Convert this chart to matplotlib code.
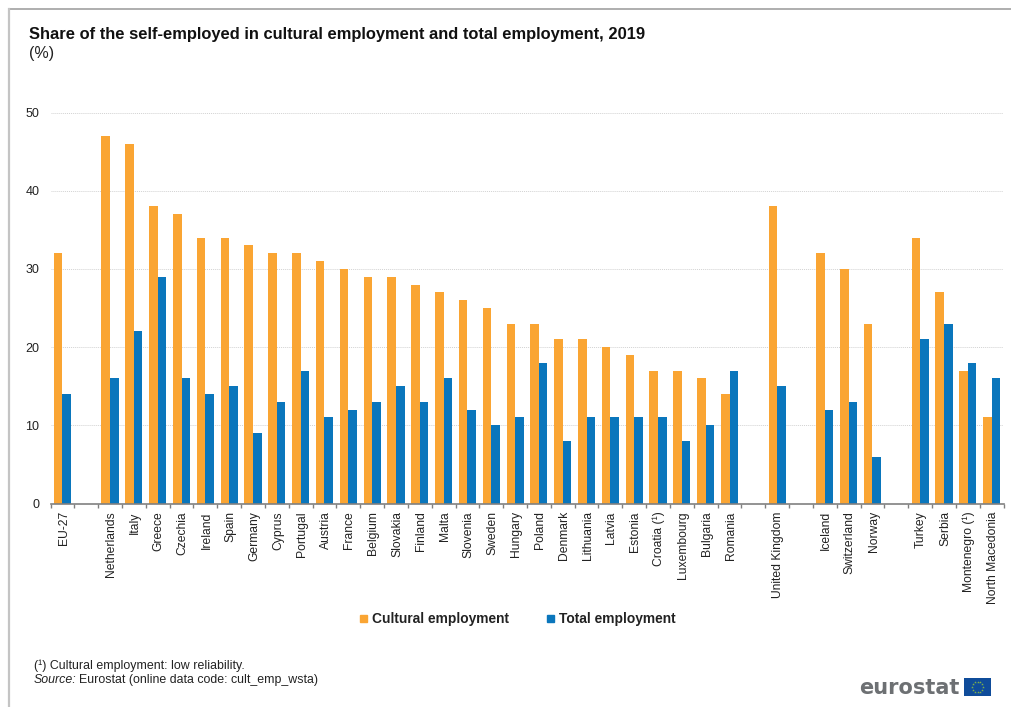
import numpy as np
import matplotlib
matplotlib.use("Agg")
import matplotlib.pyplot as plt
from matplotlib.patches import Rectangle
from matplotlib.lines import Line2D

plt.rcParams['font.family'] = ['Liberation Sans', 'DejaVu Sans']

countries = ["EU-27", "", "Netherlands", "Italy", "Greece", "Czechia", "Ireland", "Spain",
             "Germany", "Cyprus", "Portugal", "Austria", "France", "Belgium", "Slovakia",
             "Finland", "Malta", "Slovenia", "Sweden", "Hungary", "Poland", "Denmark",
             "Lithuania", "Latvia", "Estonia", "Croatia (¹)", "Luxembourg", "Bulgaria",
             "Romania", "", "United Kingdom", "", "Iceland", "Switzerland", "Norway", "",
             "Turkey", "Serbia", "Montenegro (¹)", "North Macedonia"]
cultural = [32, None, 47, 46, 38, 37, 34, 34, 33, 32, 32, 31, 30, 29, 29, 28, 27, 26, 25, 23,
            23, 21, 21, 20, 19, 17, 17, 16, 14, None, 38, None, 32, 30, 23, None, 34, 27, 17, 11]
total = [14, None, 16, 22, 29, 16, 14, 15, 9, 13, 17, 11, 12, 13, 15, 13, 16, 12, 10, 11,
         18, 8, 11, 11, 11, 11, 8, 10, 17, None, 15, None, 12, 13, 6, None, 21, 23, 18, 16]

W, H = 1012, 707
fig = plt.figure(figsize=(W / 100, H / 100), dpi=100)

def px(x, y):
    return x / W, 1 - y / H

# outer frame, only top and left sit inside the canvas
fig.add_artist(Line2D([9 / W, 1], [1 - 9 / H, 1 - 9 / H], color='#a8a8a8', lw=1.3))
fig.add_artist(Line2D([9 / W, 9 / W], [0, 1 - 9 / H], color='#c4c4c4', lw=1.6))

left, right, top, bottom = 50.5, 1003.5, 112.5, 503.5
ax = fig.add_axes([left / W, 1 - bottom / H, (right - left) / W, (bottom - top) / H])

x = np.arange(len(countries))
c_vals = np.array([np.nan if v is None else v for v in cultural], dtype=float)
t_vals = np.array([np.nan if v is None else v for v in total], dtype=float)
w = 0.36
ax.bar(x - w / 2, c_vals, w, color='#FAA533', label='Cultural employment')
ax.bar(x + w / 2, t_vals, w, color='#0A76BC', label='Total employment')

ax.set_xlim(-0.5, len(countries) - 0.5)
ax.set_ylim(0, 50)
ax.set_yticks(range(0, 51, 10))
ax.yaxis.grid(True, color='#d2d2d2', lw=0.7, ls=(0, (1, 1)))
ax.set_axisbelow(True)
ax.tick_params(axis='y', length=0, labelsize=9, pad=8, colors='#222222')
ax.set_xticks(np.arange(len(countries) + 1) - 0.5, minor=False)
ax.set_xticklabels([])
ax.tick_params(axis='x', length=3, color='#808080', width=1)
for i, name in enumerate(countries):
    ax.annotate(name, (i, 0), xytext=(0.8, -5.5), textcoords='offset points', rotation=90,
                ha='center', va='top', fontsize=8.7, color='#222222', annotation_clip=False)
for s in ['top', 'right', 'left']:
    ax.spines[s].set_visible(False)
ax.spines['bottom'].set_color('#808080')
ax.spines['bottom'].set_linewidth(1.2)

fig.text(*px(29, 39), "Share of the self-employed in cultural employment and total employment, 2019",
         fontsize=11.9, fontweight='bold', color='#111111')
fig.text(*px(29, 58), "(%)", fontsize=11.5, color='#222222')

# legend
fig.add_artist(Rectangle(px(360, 622), 7 / W, 7 / H, transform=fig.transFigure, color='#FAA533'))
fig.text(*px(372, 623), "Cultural employment", fontsize=9.9, fontweight='bold', color='#222222')
fig.add_artist(Rectangle(px(547, 622), 7 / W, 7 / H, transform=fig.transFigure, color='#0A76BC'))
fig.text(*px(559, 623), "Total employment", fontsize=9.9, fontweight='bold', color='#222222')

fig.text(*px(34, 669), "(¹) Cultural employment: low reliability.", fontsize=8.9, color='#222222')
fig.text(*px(34, 683), "Source:", fontsize=8.9, style='italic', color='#222222')
fig.text(*px(79, 683), "Eurostat (online data code: cult_emp_wsta)", fontsize=8.9, color='#222222')

# logo wordmark and flag
fig.text(*px(859, 694), "eurostat", fontsize=15, fontweight='bold', color='#6d7073',
         family='DejaVu Sans')
flag = fig.add_axes([964 / W, 1 - 696 / H, 27 / W, 18 / H])
flag.set_facecolor('#0F4C9A')
flag.set_xlim(-1.5, 1.5)
flag.set_ylim(-1, 1)
flag.set_xticks([])
flag.set_yticks([])
for s in flag.spines.values():
    s.set_visible(False)
angles = np.deg2rad(np.arange(0, 360, 30))
flag.plot(0.6 * np.cos(angles), 0.6 * np.sin(angles), ls='', marker='*', ms=2, color='#7FB24A', mew=0)

fig.savefig('out.png', dpi=100)
